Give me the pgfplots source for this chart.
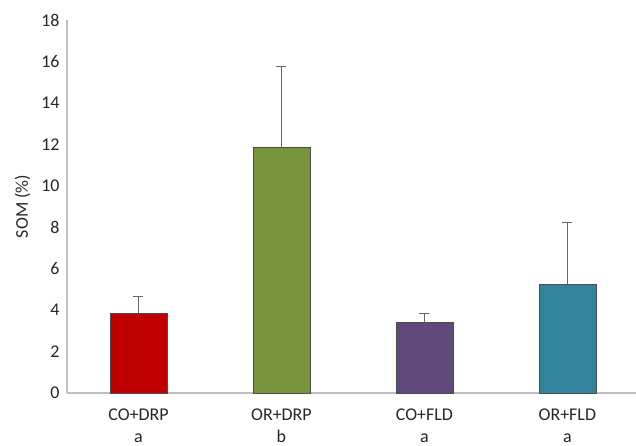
\documentclass[border=0pt]{standalone}
\usepackage{fontspec}
\setmainfont{Carlito}
\usepackage{pgfplots}
\pgfplotsset{compat=1.18}
\definecolor{cred}{HTML}{C00000}
\definecolor{cgreen}{HTML}{77933C}
\definecolor{cpurple}{HTML}{604A7B}
\definecolor{cteal}{HTML}{31849B}
\definecolor{axgray}{HTML}{BFBFBF}
\definecolor{txt}{HTML}{262626}
\begin{document}
\begin{tikzpicture}
\begin{axis}[
  at={(0,0)}, anchor=south west,
  scale only axis,
  width=569bp, height=373bp,
  xmin=-0.5, xmax=3.48,
  ymin=0, ymax=18,
  ytick={0,2,...,18},
  xtick={0,1,2,3},
  xticklabels={CO+DRP\\a, OR+DRP\\b, CO+FLD\\a, OR+FLD\\a},
  xticklabel style={align=center, font=\fontsize{18}{22}\selectfont, text=txt},
  yticklabel style={font=\fontsize{18}{20}\selectfont, text=txt},
  /pgf/number format/assume math mode=true,
  major tick length=0pt,
  axis lines*=left,
  axis line style={axgray, line width=1.2bp},
  ylabel={SOM (\%)},
  ylabel style={font=\fontsize{18}{20}\selectfont, text=txt},
  ylabel shift=4bp,
  yticklabel shift=4bp,
  xticklabel shift=12bp,
  ybar, bar width=57bp, bar shift=0pt,
  error bars/y dir=plus, error bars/y explicit,
  error bars/error bar style={black!60, line width=1.2bp},
  error bars/error mark options={rotate=90, mark size=5bp, black!60, line width=1.2bp},
  clip=false,
]
\addplot[fill=cred, draw=black!70, line width=0.6bp] coordinates {(0,3.86) +- (0,0.80)};
\addplot[fill=cgreen, draw=black!70, line width=0.6bp] coordinates {(1,11.84) +- (0,3.90)};
\addplot[fill=cpurple, draw=black!70, line width=0.6bp] coordinates {(2,3.40) +- (0,0.45)};
\addplot[fill=cteal, draw=black!70, line width=0.6bp] coordinates {(3,5.24) +- (0,2.98)};
\end{axis}
\pgfresetboundingbox
\path (-67bp,-53bp) rectangle (569bp,393bp);
\end{tikzpicture}
\end{document}
